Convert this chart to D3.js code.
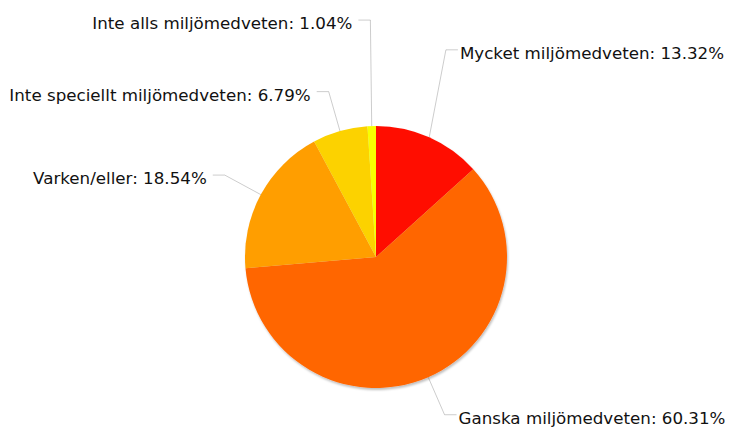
<!DOCTYPE html>
<html>
<head>
<meta charset="utf-8">
<script src="https://cdn.jsdelivr.net/npm/d3@7"></script>
<style>
html,body{margin:0;padding:0;background:#fff;}
svg{display:block;}
</style>
</head>
<body>
<svg id="chart" width="732" height="427"></svg>
<script>
// ---- data ----
const categories = ["Mycket miljömedveten", "Ganska miljömedveten", "Varken/eller", "Inte speciellt miljömedveten", "Inte alls miljömedveten"];
const values = [13.32, 60.31, 18.54, 6.79, 1.04];
const colors = ["#FF0F00", "#FF6600", "#FF9E01", "#FCD202", "#F8FF01"];

// ---- layout ----
const W = 732, H = 427;
const cx = 376, cy = 257, r = 131;
const labelR = r + 41;
const labelShift = [-50, 0, 0, 0, -65]; // label collision nudges
const tickLen = 12, textGapRight = 2, textGapLeft = 6;

const svg = d3.select("#chart");
const defs = svg.append("defs");
const f = defs.append("filter").attr("id", "shadow").attr("x", "-10%").attr("y", "-10%").attr("width", "120%").attr("height", "125%");
f.append("feDropShadow").attr("dx", 1).attr("dy", 2).attr("stdDeviation", 1.2).attr("flood-color", "#000").attr("flood-opacity", 0.25);

const items = categories.map((c, i) => ({ cat: c, value: values[i], color: colors[i], i }));
const pie = d3.pie().sort(null).value(d => d.value).startAngle(0).endAngle(2 * Math.PI);
const arcs = pie(items);
const arc = d3.arc().innerRadius(0).outerRadius(r);

const g = svg.append("g").attr("transform", `translate(${cx},${cy})`);

g.append("g").attr("filter", "url(#shadow)")
  .selectAll("path").data(arcs).join("path")
  .attr("d", arc)
  .attr("fill", d => d.data.color);

const lbl = svg.append("g");
arcs.forEach(d => {
  const a = (d.startAngle + d.endAngle) / 2;
  const ex = cx + r * Math.sin(a), ey = cy - r * Math.cos(a);
  const bx = cx + labelR * Math.sin(a), by = cy - labelR * Math.cos(a) + labelShift[d.data.i];
  const right = Math.sin(a) >= 0 && a < Math.PI * 1.9;
  const hx = right ? bx + tickLen : bx - tickLen;
  lbl.append("path")
    .attr("d", `M${ex},${ey}L${bx},${by}L${hx},${by}`)
    .attr("fill", "none")
    .attr("stroke", "#000")
    .attr("stroke-opacity", 0.2)
    .attr("stroke-width", 1);
  lbl.append("text")
    .attr("x", right ? hx + textGapRight : hx - textGapLeft)
    .attr("y", by + 9)
    .attr("text-anchor", right ? "start" : "end")
    .attr("font-family", "'DejaVu Sans', Verdana, sans-serif")
    .attr("font-size", "16.7px")
    .attr("fill", "#111")
    .text(`${d.data.cat}: ${d.data.value.toFixed(2)}%`);
});
</script>
</body>
</html>
